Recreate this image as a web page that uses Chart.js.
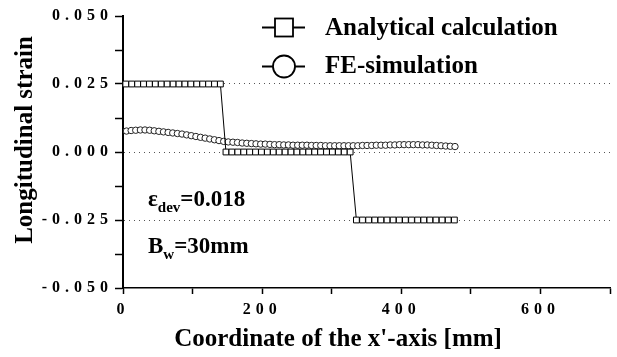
<!DOCTYPE html>
<html><head><meta charset="utf-8">
<script src="https://cdn.jsdelivr.net/npm/chart.js@4/dist/chart.umd.min.js"></script>
<style>html,body{margin:0;padding:0;background:#fff;overflow:hidden}</style>
</head><body>
<canvas id="c" width="617" height="357" style="display:block;width:617px;height:357px"></canvas>
<script>
// ---- data ----
const seriesLabels = ['Analytical calculation', 'FE-simulation'];
const xTitle = "Coordinate of the x'-axis [mm]";
const yTitle = 'Longitudinal strain';
const xTickLabels = [0, 200, 400, 600];
const yTickLabels = [-0.05, -0.025, 0, 0.025, 0.05];
const yGridValues = [-0.025, 0, 0.025];

const analyticalX = [4, 12.5, 21, 29.5, 38, 46.5, 55, 63.5, 72, 80.5, 89, 97.5, 106, 114.5, 123, 131.5, 140,
  148, 156.5, 165, 173.5, 182, 190.5, 199, 207.5, 216, 224.5, 233, 241.5, 250, 258.5, 267, 275.5, 284, 292.5, 301, 309.5, 318, 326.5,
  335.5, 344.3, 353.1, 361.9, 370.7, 379.5, 388.3, 397.1, 405.9, 414.7, 423.5, 432.3, 441.1, 449.9, 458.7, 467.5, 476.3];
const analyticalY = [0.025, 0.025, 0.025, 0.025, 0.025, 0.025, 0.025, 0.025, 0.025, 0.025, 0.025, 0.025, 0.025, 0.025, 0.025, 0.025, 0.025,
  0, 0, 0, 0, 0, 0, 0, 0, 0, 0, 0, 0, 0, 0, 0, 0, 0, 0, 0, 0, 0, 0,
  -0.025, -0.025, -0.025, -0.025, -0.025, -0.025, -0.025, -0.025, -0.025, -0.025, -0.025, -0.025, -0.025, -0.025, -0.025, -0.025, -0.025];

const feX = [5, 11.7, 18.3, 25, 31.6, 38.3, 44.9, 51.6, 58.2, 64.9, 71.5, 78.2, 84.8, 91.5, 98.1, 104.8, 111.4, 118.1, 124.7, 131.4,
  138, 144.7, 151.3, 158, 164.6, 171.3, 177.9, 184.6, 191.2, 197.9, 204.5, 211.2, 217.8, 224.5, 231.1, 237.8, 244.4, 251.1, 257.7, 264.4,
  271, 277.7, 284.3, 291, 297.6, 304.3, 310.9, 317.6, 324.2, 330.9, 337.5, 344.2, 350.8, 357.5, 364.1, 370.8, 377.4, 384.1, 390.7, 397.4,
  404, 410.7, 417.3, 424, 430.6, 437.3, 443.9, 450.6, 457.2, 463.9, 470.5, 477.2];
const feY = [0.0077, 0.0079, 0.0080, 0.0081, 0.0081, 0.0080, 0.0078, 0.0076, 0.0074, 0.0072, 0.0070, 0.0068, 0.0066, 0.0063, 0.0060, 0.0057, 0.0054, 0.0051, 0.0048, 0.0045,
  0.0042, 0.0039, 0.0037, 0.0036, 0.0035, 0.0033, 0.0032, 0.0031, 0.0030, 0.0029, 0.0029, 0.0028, 0.0027, 0.0027, 0.0026, 0.0026, 0.0025, 0.0025, 0.0025, 0.0025,
  0.0024, 0.0024, 0.0024, 0.0023, 0.0023, 0.0023, 0.0023, 0.0023, 0.0023, 0.0023, 0.0023, 0.0024, 0.0024, 0.0024, 0.0025, 0.0025, 0.0025, 0.0026, 0.0026, 0.0027,
  0.0027, 0.0027, 0.0027, 0.0027, 0.0026, 0.0026, 0.0025, 0.0024, 0.0023, 0.0022, 0.0021, 0.0020];

const annotation1 = { main: '\u03b5', sub: 'dev', rest: '=0.018' };
const annotation2 = { main: 'B', sub: 'w', rest: '=30mm' };

// ---- chart ----
const SERIF = "'Times New Roman', 'Liberation Serif', serif";
const near = (v, arr) => arr.some(a => Math.abs(a - v) < 1e-9);

const extras = {
  id: 'extras',
  beforeDraw(chart) { chart.ctx.letterSpacing = '5px'; },
  afterDraw(chart) {
    const ctx = chart.ctx;
    ctx.save();
    ctx.letterSpacing = '0px';
    ctx.fillStyle = '#000';
    ctx.strokeStyle = '#000';
    // axis titles
    ctx.font = 'bold 25px ' + SERIF;
    ctx.textAlign = 'center';
    ctx.textBaseline = 'alphabetic';
    ctx.fillText(xTitle, 338, 346);
    ctx.save();
    ctx.translate(32, 140);
    ctx.rotate(-Math.PI / 2);
    ctx.fillText(yTitle, 0, 0);
    ctx.restore();
    // legend
    ctx.lineWidth = 1.8;
    ctx.beginPath(); ctx.moveTo(262, 27.5); ctx.lineTo(305, 27.5); ctx.stroke();
    ctx.fillStyle = '#fff';
    ctx.fillRect(275, 18.5, 18, 18);
    ctx.strokeRect(275, 18.5, 18, 18);
    ctx.beginPath(); ctx.moveTo(262, 66.5); ctx.lineTo(305, 66.5); ctx.stroke();
    ctx.beginPath(); ctx.arc(284, 66.5, 11, 0, Math.PI * 2); ctx.fill(); ctx.stroke();
    ctx.fillStyle = '#000';
    ctx.textAlign = 'left';
    ctx.font = 'bold 25px ' + SERIF;
    ctx.fillText(seriesLabels[0], 325, 35);
    ctx.fillText(seriesLabels[1], 325, 73);
    // annotations
    const drawAnn = (a, x, y) => {
      ctx.font = 'bold 23px ' + SERIF;
      ctx.fillText(a.main, x, y);
      let w = ctx.measureText(a.main).width;
      ctx.font = 'bold 15px ' + SERIF;
      ctx.fillText(a.sub, x + w, y + 6);
      w += ctx.measureText(a.sub).width;
      ctx.font = 'bold 23px ' + SERIF;
      ctx.fillText(a.rest, x + w, y);
    };
    drawAnn(annotation1, 148, 206);
    drawAnn(annotation2, 148, 253);
    ctx.restore();
  }
};

new Chart(document.getElementById('c'), {
  type: 'line',
  data: {
    datasets: [
      {
        label: seriesLabels[0],
        data: analyticalX.map((x, i) => ({ x, y: analyticalY[i] })),
        borderColor: '#000', borderWidth: 1,
        pointStyle: 'rect', pointRadius: 4.1, pointBorderWidth: 1,
        pointBorderColor: '#000', pointBackgroundColor: '#fff',
        tension: 0, clip: false
      },
      {
        label: seriesLabels[1],
        data: feX.map((x, i) => ({ x, y: feY[i] })),
        borderColor: '#777', borderWidth: 1,
        pointStyle: 'circle', pointRadius: 3.2, pointBorderWidth: 1,
        pointBorderColor: '#222', pointBackgroundColor: '#fff',
        tension: 0, clip: false
      }
    ]
  },
  options: {
    responsive: false,
    animation: false,
    devicePixelRatio: 1,
    layout: { padding: { top: 16, right: 7, left: 0, bottom: 0 } },
    plugins: { legend: { display: false }, tooltip: { enabled: false } },
    scales: {
      x: {
        type: 'linear', min: 0, max: 700,
        afterFit: s => { s.height = 69; },
        ticks: {
          stepSize: 100, autoSkip: false, maxRotation: 0, padding: 6, color: '#000',
          font: { family: SERIF, size: 16, weight: 'bold' },
          callback: v => near(v, xTickLabels) ? String(v) : ''
        },
        grid: { drawOnChartArea: false, drawTicks: true, tickLength: 6, tickColor: '#000', tickWidth: 1.5 },
        border: { display: true, color: '#000', width: 1.5 }
      },
      y: {
        type: 'linear', min: -0.05, max: 0.05,
        afterFit: s => { s.width = 123; },
        ticks: {
          stepSize: 0.0125, autoSkip: false, padding: 2, color: '#000',
          font: { family: SERIF, size: 16, weight: 'bold' },
          callback: v => near(v, yTickLabels) ? v.toFixed(3) : ''
        },
        grid: {
          drawOnChartArea: true, drawTicks: true, tickLength: 8, tickColor: '#000', tickWidth: 1.5,
          color: c => (c.tick && near(c.tick.value, yGridValues)) ? '#555' : 'rgba(0,0,0,0)',
          lineWidth: 1, tickBorderDash: []
        },
        border: { display: true, color: '#000', width: 2, dash: [1, 4] }
      }
    }
  },
  plugins: [extras]
});
</script>
</body></html>
